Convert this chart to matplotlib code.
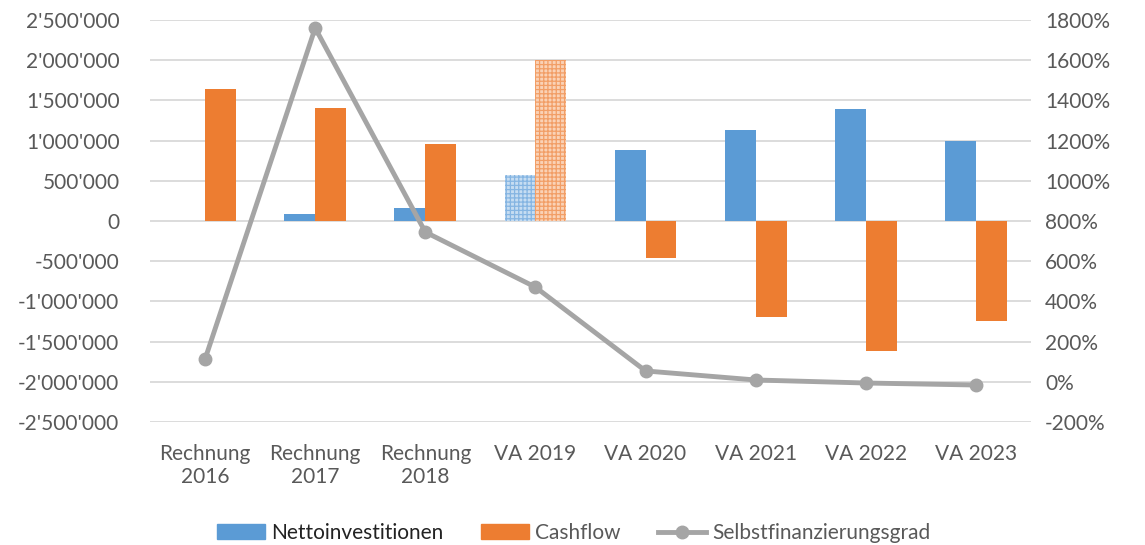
import numpy as np
import matplotlib.pyplot as plt
from matplotlib.patches import Patch
from matplotlib.lines import Line2D
from matplotlib.ticker import FuncFormatter

plt.rcParams['font.family'] = ['Lato', 'DejaVu Sans']
plt.rcParams['hatch.linewidth'] = 0.9

categories = ['Rechnung\n2016', 'Rechnung\n2017', 'Rechnung\n2018', 'VA 2019',
              'VA 2020', 'VA 2021', 'VA 2022', 'VA 2023']
netto = [5000, 87000, 162000, 572000, 883000, 1130000, 1390000, 995000]
cashflow = [1640000, 1405000, 958000, 2000000, -460000, -1190000, -1620000, -1240000]
grad = [113, 1760, 745, 471, 54, 9, -6, -16]

blue = '#5B9BD5'
orange = '#ED7D31'
gray = '#A5A5A5'
text_col = '#595959'

fig = plt.figure(figsize=(11.45, 5.45), dpi=100)
ax = fig.add_axes([150 / 1145, 123 / 545, 881 / 1145, 402 / 545])
ax2 = ax.twinx()

x = np.arange(len(categories))
w = 0.28
bars_n = ax.bar(x - w / 2, netto, w, color=blue, zorder=2)
bars_c = ax.bar(x + w / 2, cashflow, w, color=orange, zorder=2)
# Voranschlag 2019 drawn with a checkered pattern
for b, base, light in [(bars_n[3], '#85B5E2', '#C6DDF2'), (bars_c[3], '#F29E66', '#FAD2B6')]:
    b.set_facecolor(light)
    b.set_edgecolor(base)
    b.set_hatch('++++')
    b.set_linewidth(0)

ax.set_ylim(-2500000, 2500000)
ax.set_yticks(np.arange(-2500000, 2500001, 500000))
ax.yaxis.set_major_formatter(FuncFormatter(lambda v, p: f"{int(v):,}".replace(',', "'")))
ax.set_xlim(-0.5, len(categories) - 0.5)
ax.set_xticks(x)
ax.set_xticklabels(categories)
ax.grid(axis='y', color='#D9D9D9', linewidth=1.3, zorder=0)
ax.set_axisbelow(True)

ax2.plot(x, grad, color=gray, linewidth=3.5, marker='o', markersize=9, zorder=3)
ax2.set_ylim(-200, 1800)
ax2.set_yticks(np.arange(-200, 1801, 200))
ax2.yaxis.set_major_formatter(FuncFormatter(lambda v, p: f"{int(v)}%"))

for a in (ax, ax2):
    for s in a.spines.values():
        s.set_visible(False)
    a.tick_params(length=0, labelsize=15, colors=text_col)
ax.tick_params(axis='y', pad=22)
ax.tick_params(axis='x', pad=16)
ax2.tick_params(axis='y', pad=10)

handles = [Patch(color=blue), Patch(color=orange),
           Line2D([0], [0], color=gray, linewidth=3.5, marker='o', markersize=9)]
labels = ['Nettoinvestitionen', 'Cashflow', 'Selbstfinanzierungsgrad']
leg = fig.legend(handles, labels, loc='center', bbox_to_anchor=(0.501, 0.022), ncol=3,
                 frameon=False, fontsize=15, handlelength=2.3, columnspacing=1.8,
                 handletextpad=0.3)
for t in leg.get_texts():
    t.set_color(text_col)
leg.get_texts()[0].set_color('#222222')

fig.savefig('out.png', dpi=100)
